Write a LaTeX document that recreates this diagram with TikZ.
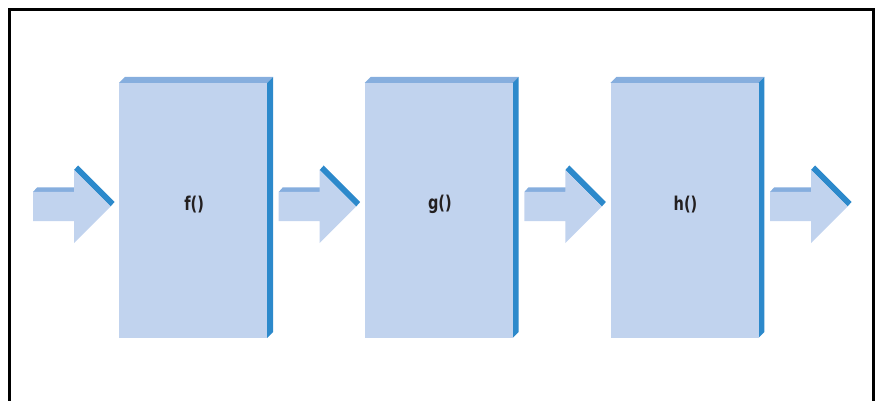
\documentclass[tikz,border=0pt]{standalone}
\usepackage{fontspec}
\newfontfamily\labelfont{DejaVu Sans Condensed}[FakeStretch=0.85]
\definecolor{facefront}{HTML}{C1D3EE}
\definecolor{facetop}{HTML}{86AEDE}
\definecolor{faceside}{HTML}{2C89CB}
\definecolor{labeltext}{HTML}{231F20}
\tikzset{
  stage/.style={fill=facefront, draw=none, minimum width=148pt, minimum height=255pt,
    inner sep=0pt},
  stagelabel/.style={font=\labelfont\bfseries\fontsize{19}{19}\selectfont,
    text=labeltext, inner sep=0pt},
  topface/.style={fill=facetop, draw=none},
  sideface/.style={fill=faceside, draw=none},
  frontface/.style={fill=facefront, draw=none},
  frame/.style={draw=black, line width=3pt}
}
% block arrow: #1 = left end of the shaft, #2 = name of its anchor coordinate
\newcommand{\blockarrow}[2]{%
  \coordinate (#2) at (#1,206.5);
  \fill[topface] (#1,192) -- ++(4,-4.5) -- ++(41,0) -- ++(-4,4.5) -- cycle;
  \fill[sideface] (#1+41,170) -- ++(4,-4.5) -- ++(36.5,36.5) -- ++(-4,4.5) -- cycle;
  \fill[frontface] (#1,192) -- ++(41,0) -- ++(0,-22) -- ++(36.5,36.5)
     -- ++(-36.5,36.5) -- ++(0,-22) -- ++(-41,0) -- cycle;
}
\begin{document}
\begin{tikzpicture}[x=1pt,y=-1pt]
  \useasboundingbox (0,0) rectangle (876,401);
  \clip (0,0) rectangle (876,401);
  \draw[frame] (9.5,9.5) rectangle (873.5,420);

  % three processing stages drawn as shallow boxes
  \foreach \name/\lbl/\xl in {f/f()/119, g/g()/364.67, h/h()/610.33}{
    \fill[topface] (\xl,83) -- ++(6,-6) -- ++(148,0) -- ++(-6,6) -- cycle;
    \fill[sideface] (\xl+148,83) -- ++(6,-6) -- ++(0,255) -- ++(-6,6) -- cycle;
    \node[stage, anchor=north west] (\name) at (\xl,83) {};
    \node[stagelabel] (\name-label) at ([xshift=1pt,yshift=6pt]\name.center) {\lbl};
  }

  % flow arrows in front of, between and after the stages
  \blockarrow{33}{in}
  \blockarrow{278.67}{fg}
  \blockarrow{524.33}{gh}
  \blockarrow{770}{out}
\end{tikzpicture}
\end{document}
